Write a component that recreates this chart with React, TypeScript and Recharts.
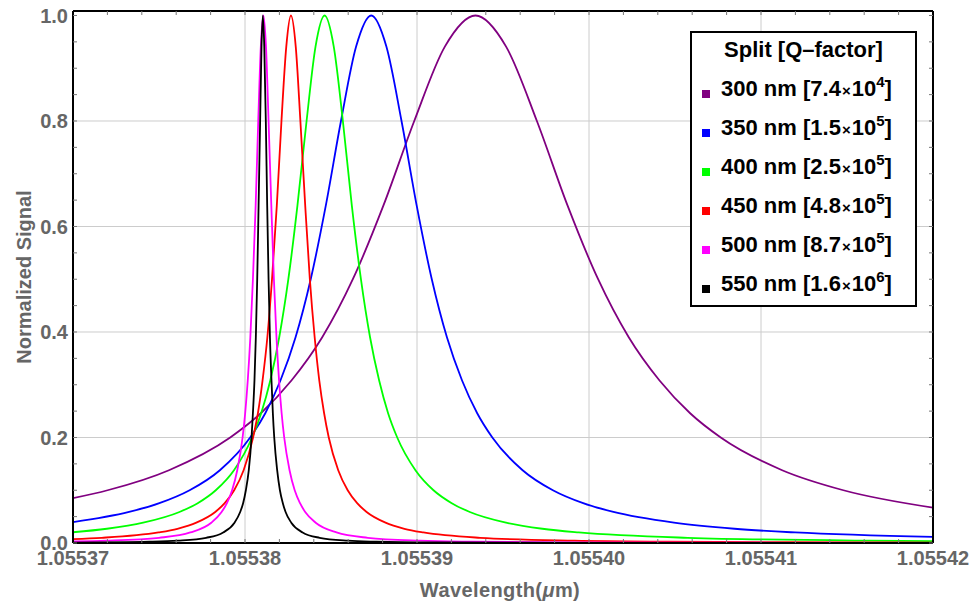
import { CartesianGrid, Label, Legend, Line, LineChart, XAxis, YAxis } from 'recharts'

const FONT = '"Liberation Sans", Arial, sans-serif'

const splits = ['300 nm', '350 nm', '400 nm', '450 nm', '500 nm', '550 nm']
const qMantissas = ['7.4', '1.5', '2.5', '4.8', '8.7', '1.6']
const qExponents = ['4', '5', '5', '5', '5', '6']
const colors = ['#800080', '#0000ff', '#00ff00', '#ff0000', '#ff00ff', '#000000']

const xTicks = [1.05537, 1.05538, 1.05539, 1.0554, 1.05541, 1.05542]
const yTicks = [0, 0.2, 0.4, 0.6, 0.8, 1.0]
const xMinorTicks = [
  1.05537, 1.055372, 1.055374, 1.055376, 1.055378, 1.05538, 1.055382, 1.055384, 1.055386,
  1.055388, 1.05539, 1.055392, 1.055394, 1.055396, 1.055398, 1.0554, 1.055402, 1.055404,
  1.055406, 1.055408, 1.05541, 1.055412, 1.055414, 1.055416, 1.055418, 1.05542,
]
const yMinorTicks = [
  0, 0.05, 0.1, 0.15, 0.2, 0.25, 0.3, 0.35, 0.4, 0.45, 0.5, 0.55, 0.6, 0.65, 0.7, 0.75, 0.8,
  0.85, 0.9, 0.95, 1.0,
]

// [wavelength (um), normalized signal]
const signal300 = [
  [1.05537, 0.085], [1.05537201, 0.1], [1.05537558, 0.138], [1.05537914, 0.2],
  [1.05538092, 0.246], [1.0553827, 0.308], [1.05538449, 0.39], [1.05538627, 0.5],
  [1.05538805, 0.64], [1.05538984, 0.8], [1.05539162, 0.941], [1.0553934, 1],
  [1.05539518, 0.941], [1.05539697, 0.8], [1.05539875, 0.64], [1.05540053, 0.5],
  [1.05540231, 0.39], [1.0554041, 0.308], [1.05540588, 0.246], [1.05540766, 0.2],
  [1.05541123, 0.138], [1.05541479, 0.1], [1.05542, 0.067],
]
const signal350 = [
  [1.05537, 0.0396], [1.05537326, 0.0588], [1.05537502, 0.0755], [1.05537678, 0.1],
  [1.05537854, 0.138], [1.0553803, 0.2], [1.05538118, 0.246], [1.05538206, 0.308],
  [1.05538294, 0.39], [1.05538382, 0.5], [1.0553847, 0.64], [1.05538558, 0.8],
  [1.05538646, 0.941], [1.05538734, 1], [1.05538822, 0.941], [1.0553891, 0.8],
  [1.05538998, 0.64], [1.05539086, 0.5], [1.05539174, 0.39], [1.05539262, 0.308],
  [1.0553935, 0.246], [1.05539438, 0.2], [1.05539614, 0.138], [1.0553979, 0.1],
  [1.05539966, 0.0755], [1.05540142, 0.0588], [1.05540494, 0.0385], [1.05540846, 0.027],
  [1.05541198, 0.02], [1.05542, 0.0115],
]
const signal400 = [
  [1.05537, 0.0204], [1.05537197, 0.027], [1.05537408, 0.0385], [1.05537619, 0.0588],
  [1.05537725, 0.0755], [1.0553783, 0.1], [1.05537936, 0.138], [1.05538041, 0.2],
  [1.05538094, 0.246], [1.05538147, 0.308], [1.05538199, 0.39], [1.05538252, 0.5],
  [1.05538305, 0.64], [1.05538358, 0.8], [1.0553841, 0.941], [1.05538463, 1],
  [1.05538516, 0.941], [1.05538569, 0.8], [1.05538621, 0.64], [1.05538674, 0.5],
  [1.05538727, 0.39], [1.0553878, 0.308], [1.05538832, 0.246], [1.05538885, 0.2],
  [1.05538991, 0.138], [1.05539096, 0.1], [1.05539202, 0.0755], [1.05539307, 0.0588],
  [1.05539518, 0.0385], [1.05539729, 0.027], [1.0553994, 0.02], [1.05540573, 0.0099],
  [1.05541628, 0.0044], [1.05542, 0.0036],
]
const signal450 = [
  [1.05537, 0.0075], [1.05537167, 0.0099], [1.05537497, 0.02], [1.05537607, 0.027],
  [1.05537717, 0.0385], [1.05537827, 0.0588], [1.05537882, 0.0755], [1.05537937, 0.1],
  [1.05537992, 0.138], [1.05538047, 0.2], [1.05538075, 0.246], [1.05538102, 0.308],
  [1.0553813, 0.39], [1.05538157, 0.5], [1.05538185, 0.64], [1.05538212, 0.8],
  [1.0553824, 0.941], [1.05538267, 1], [1.05538295, 0.941], [1.05538322, 0.8],
  [1.0553835, 0.64], [1.05538377, 0.5], [1.05538405, 0.39], [1.05538432, 0.308],
  [1.0553846, 0.246], [1.05538487, 0.2], [1.05538542, 0.138], [1.05538597, 0.1],
  [1.05538652, 0.0755], [1.05538707, 0.0588], [1.05538817, 0.0385], [1.05538927, 0.027],
  [1.05539037, 0.02], [1.05539367, 0.0099], [1.05539917, 0.0044], [1.05540467, 0.0025],
  [1.05541567, 0.0011], [1.05542, 0.0009],
]
const signal500 = [
  [1.05537, 0.003], [1.05537197, 0.0044], [1.055375, 0.0099], [1.05537682, 0.02],
  [1.05537804, 0.0385], [1.05537864, 0.0588], [1.05537895, 0.0755], [1.05537925, 0.1],
  [1.05537955, 0.138], [1.05537986, 0.2], [1.05538001, 0.246], [1.05538016, 0.308],
  [1.05538031, 0.39], [1.05538046, 0.5], [1.05538062, 0.64], [1.05538077, 0.8],
  [1.05538092, 0.941], [1.05538107, 1], [1.05538122, 0.941], [1.05538137, 0.8],
  [1.05538153, 0.64], [1.05538168, 0.5], [1.05538183, 0.39], [1.05538198, 0.308],
  [1.05538213, 0.246], [1.05538228, 0.2], [1.05538259, 0.138], [1.05538289, 0.1],
  [1.0553832, 0.0755], [1.0553835, 0.0588], [1.05538411, 0.0385], [1.05538532, 0.02],
  [1.05538714, 0.0099], [1.05539018, 0.0044], [1.05539321, 0.0025], [1.05539928, 0.0011],
  [1.05541142, 0.0004], [1.05542, 0.0002],
]
const signal550 = [
  [1.05537, 0.0009], [1.05537444, 0.0025], [1.05537609, 0.0044], [1.05537774, 0.0099],
  [1.05537873, 0.02], [1.05537939, 0.0385], [1.05537972, 0.0588], [1.05537989, 0.0755],
  [1.05538005, 0.1], [1.05538022, 0.138], [1.05538038, 0.2], [1.05538046, 0.246],
  [1.05538055, 0.308], [1.05538063, 0.39], [1.05538071, 0.5], [1.05538079, 0.64],
  [1.05538088, 0.8], [1.05538096, 0.941], [1.05538104, 1], [1.05538112, 0.941],
  [1.05538121, 0.8], [1.05538129, 0.64], [1.05538137, 0.5], [1.05538145, 0.39],
  [1.05538154, 0.308], [1.05538162, 0.246], [1.0553817, 0.2], [1.05538187, 0.138],
  [1.05538203, 0.1], [1.0553822, 0.0755], [1.05538236, 0.0588], [1.05538269, 0.0385],
  [1.05538335, 0.02], [1.05538434, 0.0099], [1.05538599, 0.0044], [1.05538764, 0.0025],
  [1.05539094, 0.0011], [1.05540084, 0.0003], [1.05542, 0.0001],
]

const seriesRows = [signal300, signal350, signal400, signal450, signal500, signal550]

const toPoints = (rows: number[][]) => rows.map(([x, y]) => ({ x, y }))

const tickStyle = { fill: '#666', fontSize: 20, fontWeight: 'bold', fontFamily: FONT }
const minorTickLine = { stroke: '#777', strokeWidth: 1 }
const frameLine = { stroke: '#000', strokeWidth: 2 }
const noLabel = () => ''

function XTitle(props: any) {
  const { viewBox } = props
  return (
    <text
      x={viewBox.x + viewBox.width / 2 - 3}
      y={viewBox.y + 54}
      textAnchor="middle"
      fill="#666"
      fontSize={20}
      fontWeight="bold"
      fontFamily={FONT}
      letterSpacing={0.4}
    >
      Wavelength(<tspan fontStyle="italic">μ</tspan>m)
    </text>
  )
}

function YTitle(props: any) {
  const { viewBox } = props
  const cx = viewBox.x + 18
  const cy = viewBox.y + viewBox.height / 2
  return (
    <text
      x={cx}
      y={cy}
      transform={`rotate(-90 ${cx} ${cy})`}
      textAnchor="middle"
      fill="#666"
      fontSize={20}
      fontWeight="bold"
      fontFamily={FONT}
    >
      Normalized Signal
    </text>
  )
}

function SplitLegend() {
  return (
    <div
      style={{
        width: 227,
        height: 276,
        boxSizing: 'border-box',
        border: '2.5px solid #000',
        background: '#fff',
        fontFamily: FONT,
        fontWeight: 'bold',
        color: '#000',
        paddingTop: 2,
      }}
    >
      <div style={{ height: 34, lineHeight: '30px', fontSize: 22, textAlign: 'center' }}>
        Split [Q–factor]
      </div>
      {splits.map((name, i) => (
        <div key={name} style={{ height: 39, display: 'flex', alignItems: 'center', fontSize: 22 }}>
          <span
            style={{
              width: 8,
              height: 8,
              background: colors[i],
              marginLeft: 10,
              marginRight: 11,
              marginTop: 10,
              flexShrink: 0,
            }}
          />
          <span style={{ whiteSpace: 'nowrap' }}>
            {name} [{qMantissas[i]}
            <span style={{ fontSize: 15, margin: '0 1px' }}>×</span>10
            <span style={{ fontSize: 15, position: 'relative', top: -9 }}>{qExponents[i]}</span>]
          </span>
        </div>
      ))}
    </div>
  )
}

export default function App() {
  return (
    <div style={{ position: 'absolute', left: 0, top: 0, width: 976, height: 606, background: '#fff' }}>
      <LineChart width={976} height={606} margin={{ top: 11, right: 43, bottom: 33, left: 13 }}>
        <CartesianGrid
          stroke="#cccccc"
          horizontalValues={[0.2, 0.4, 0.6, 0.8]}
          verticalValues={[1.05538, 1.05539, 1.0554, 1.05541]}
        />
        <XAxis
          dataKey="x"
          type="number"
          domain={[1.05537, 1.05542]}
          allowDataOverflow
          ticks={xTicks}
          interval={0}
          tickFormatter={(v: number) => v.toFixed(5)}
          tick={tickStyle}
          tickLine={false}
          axisLine={frameLine}
          height={30}
        >
          <Label content={XTitle} />
        </XAxis>
        <XAxis
          xAxisId="minorBottom"
          dataKey="x"
          type="number"
          domain={[1.05537, 1.05542]}
          allowDataOverflow
          ticks={xMinorTicks}
          interval={0}
          mirror
          tickSize={4}
          tickLine={minorTickLine}
          tickFormatter={noLabel}
          axisLine={false}
        />
        <XAxis
          xAxisId="top"
          orientation="top"
          dataKey="x"
          type="number"
          domain={[1.05537, 1.05542]}
          allowDataOverflow
          ticks={xMinorTicks}
          interval={0}
          mirror
          tickSize={4}
          tickLine={minorTickLine}
          tickFormatter={noLabel}
          axisLine={frameLine}
        />
        <YAxis
          type="number"
          domain={[0, 1.0085]}
          allowDataOverflow
          ticks={yTicks}
          interval={0}
          tickFormatter={(v: number) => v.toFixed(1)}
          tick={tickStyle}
          tickLine={false}
          tickSize={4}
          tickMargin={1}
          axisLine={frameLine}
          width={60}
        >
          <Label content={YTitle} />
        </YAxis>
        <YAxis
          yAxisId="minorLeft"
          type="number"
          domain={[0, 1.0085]}
          allowDataOverflow
          ticks={yMinorTicks}
          interval={0}
          mirror
          tickSize={4}
          tickLine={minorTickLine}
          tickFormatter={noLabel}
          axisLine={false}
        />
        <YAxis
          yAxisId="right"
          orientation="right"
          type="number"
          domain={[0, 1.0085]}
          allowDataOverflow
          ticks={yMinorTicks}
          interval={0}
          mirror
          tickSize={4}
          tickLine={minorTickLine}
          tickFormatter={noLabel}
          axisLine={frameLine}
        />
        {seriesRows.map((rows, i) => (
          <Line
            key={splits[i]}
            data={toPoints(rows)}
            dataKey="y"
            name={splits[i]}
            type="monotone"
            stroke={colors[i]}
            strokeWidth={1.8}
            dot={false}
            activeDot={false}
            isAnimationActive={false}
          />
        ))}
        <Legend
          layout="vertical"
          align="center"
          verticalAlign="middle"
          content={SplitLegend}
          wrapperStyle={{ left: 690, top: 31, width: 227, height: 276 }}
        />
      </LineChart>
    </div>
  )
}
